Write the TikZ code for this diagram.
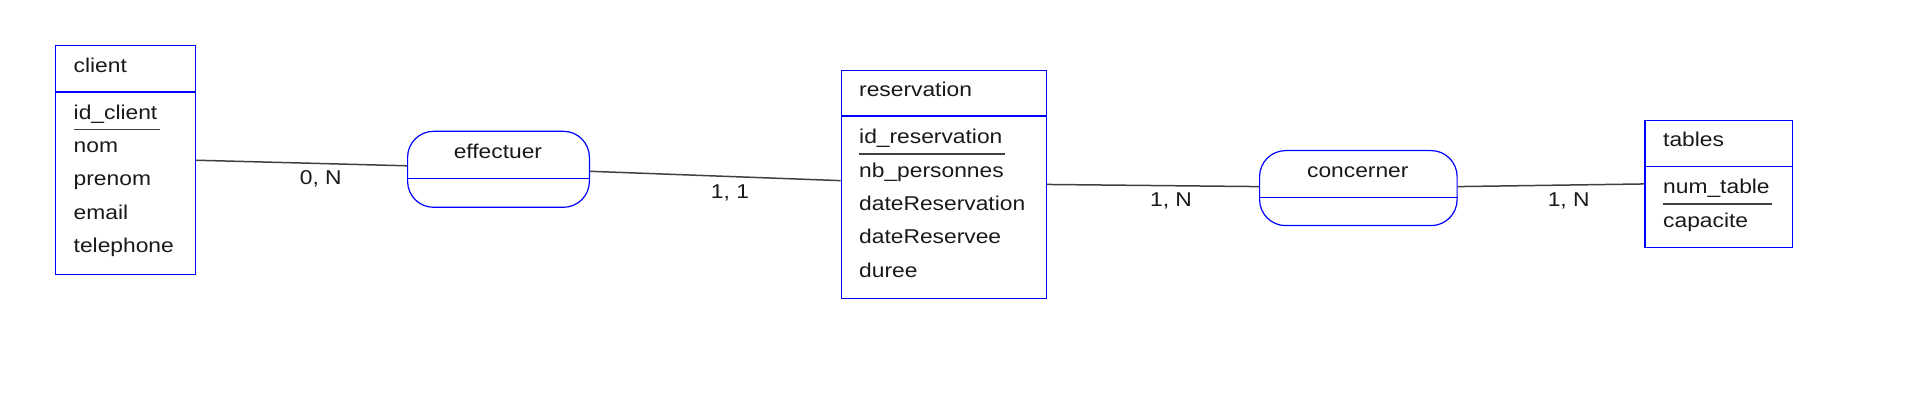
\documentclass[tikz,border=0pt]{standalone}
\usepackage{fontspec}
\setmainfont{Liberation Sans}[FakeStretch=1.14]
\begin{document}
\begin{tikzpicture}[x=1pt,y=-1pt,
  ent/.style={draw=blue, line width=1.2pt, rectangle, inner sep=0pt, anchor=north west},
  rel/.style={draw=blue, line width=1.2pt, rectangle, rounded corners=26pt, inner sep=0pt, anchor=north west},
  sep/.style={draw=blue, line width=1.2pt},
  txt/.style={anchor=base west, inner sep=0pt, font=\fontsize{20}{24}\selectfont, text=black!90},
  ctxt/.style={anchor=base, inner sep=0pt, font=\fontsize{20}{24}\selectfont, text=black!90},
  conn/.style={draw=black!75, line width=1.5pt},
  key/.style={draw=black!75, line width=1.5pt}]
\useasboundingbox (0,0) rectangle (1920,411);
% ---------- client ----------
\node[ent, minimum width=140pt, minimum height=228.7pt] (client) at (55,45.3) {};
\draw[sep] (client.west |- 0,92) -- (client.east |- 0,92);
\node[txt] (client-h) at (73.5,72.7) {client};
\node[txt] (client-a1) at (73.5,119.3) {id\_client};
\draw[key] ([yshift=-10pt]client-a1.base west) -- ([yshift=-10pt,xshift=2pt]client-a1.base east);
\node[txt] (client-a2) at (73.5,152.6) {nom};
\node[txt] (client-a3) at (73.5,185.9) {prenom};
\node[txt] (client-a4) at (73.5,219.2) {email};
\node[txt] (client-a5) at (73.5,252.5) {telephone};
% ---------- effectuer ----------
\node[rel, minimum width=181.8pt, minimum height=76pt] (eff) at (407,130.7) {};
\draw[sep] (eff.west |- 0,178.3) -- (eff.east |- 0,178.3);
\node[ctxt] (eff-t) at (497.9,158.3) {effectuer};
% ---------- reservation ----------
\node[ent, minimum width=204.8pt, minimum height=227.7pt] (res) at (840.7,70) {};
\draw[sep] (res.west |- 0,116) -- (res.east |- 0,116);
\node[txt] (res-h) at (859,96.7) {reservation};
\node[txt] (res-a1) at (859,144) {id\_reservation};
\draw[key] ([yshift=-10pt]res-a1.base west) -- ([yshift=-10pt,xshift=2pt]res-a1.base east);
\node[txt] (res-a2) at (859,177.3) {nb\_personnes};
\node[txt] (res-a3) at (859,210.6) {dateReservation};
\node[txt] (res-a4) at (859,243.9) {dateReservee};
\node[txt] (res-a5) at (859,277.2) {duree};
% ---------- concerner ----------
\node[rel, minimum width=197.5pt, minimum height=75pt] (con) at (1259,150) {};
\draw[sep] (con.west |- 0,197.3) -- (con.east |- 0,197.3);
\node[ctxt] (con-t) at (1357.8,177.3) {concerner};
% ---------- tables ----------
\node[ent, minimum width=147.6pt, minimum height=126.7pt] (tab) at (1644.4,120) {};
\draw[sep] (tab.west |- 0,166.7) -- (tab.east |- 0,166.7);
\node[txt] (tab-h) at (1663,146.7) {tables};
\node[txt] (tab-a1) at (1663,194) {num\_table};
\draw[key] ([yshift=-10pt]tab-a1.base west) -- ([yshift=-10pt,xshift=2pt]tab-a1.base east);
\node[txt] (tab-a2) at (1663,227.3) {capacite};
% ---------- connectors ----------
\draw[conn] (client.east) -- ([yshift=3.5pt]eff.west);
\draw[conn] ([yshift=-2pt]eff.east) -- ([yshift=3.8pt]res.west);
\draw[conn] (res.east) -- ([yshift=1.5pt]con.west);
\draw[conn] ([yshift=1.5pt]con.east) -- (tab.west);
% ---------- cardinalities ----------
\node[ctxt] (card1) at (320.8,185) {0, N};
\node[ctxt] (card2) at (730,198.3) {1, 1};
\node[ctxt] (card3) at (1171,206.7) {1, N};
\node[ctxt] (card4) at (1568.7,206.7) {1, N};
\end{tikzpicture}
\end{document}
